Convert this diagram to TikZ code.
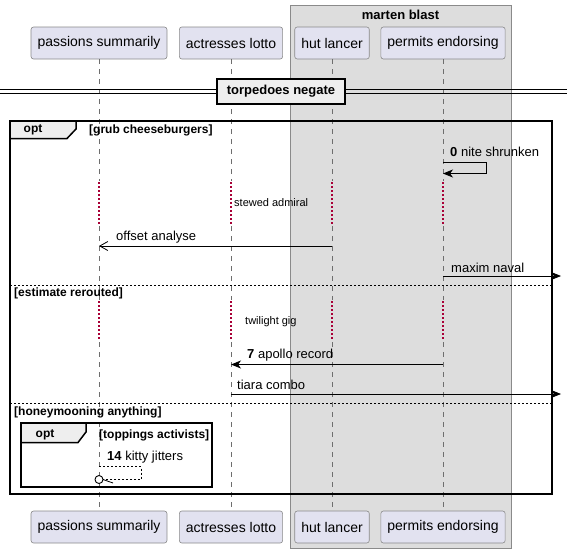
\documentclass[tikz,border=0pt]{standalone}
\usepackage{fontspec}
\setmainfont{Liberation Sans}
\usetikzlibrary{arrows.meta}
\definecolor{partfill}{HTML}{E2E2F0}
\definecolor{partline}{HTML}{8A8A8A}
\definecolor{boxfill}{HTML}{DDDDDD}
\definecolor{tabfill}{HTML}{EEEEEE}
\definecolor{delayred}{HTML}{A80036}
\definecolor{lifegray}{HTML}{6E6E6E}
\newcommand{\fsz}[1]{\fontsize{#1}{#1}\selectfont}

\begin{document}
\begin{tikzpicture}[x=1pt,y=-1pt,
  participant/.style={draw=partline, fill=partfill, rounded corners=2.5pt,
    line width=0.6pt, minimum height=32pt, inner xsep=6.5pt, inner ysep=0pt,
    font=\fsz{14}},
  lifeline/.style={draw=lifegray, line width=0.6pt, dash pattern=on 5pt off 5pt},
  delayline/.style={draw=delayred, line width=1.5pt, dash pattern=on 1.5pt off 2.5pt},
  framebox/.style={draw=black, line width=1.5pt},
  tabbox/.style={draw=black, fill=tabfill, line width=1.5pt},
  sepline/.style={draw=black, line width=0.7pt, dash pattern=on 2pt off 2pt},
  msg/.style={line width=0.8pt, -{Stealth[length=10pt,width=8pt,inset=3pt]}},
  asyncmsg/.style={line width=0.8pt, -{Straight Barb[length=8pt,width=9pt]}},
  retmsg/.style={line width=0.7pt, dash pattern=on 2pt off 2pt},
  msglabel/.style={anchor=west, inner sep=0pt, font=\fsz{13}},
  delaylabel/.style={anchor=west, inner sep=0pt, font=\fsz{11}},
  condlabel/.style={anchor=west, inner sep=0pt, font=\fsz{12}\bfseries},
  optlabel/.style={inner sep=0pt, font=\fsz{12}\bfseries}
]
\useasboundingbox (0,0) rectangle (567,552);
\fill[white] (0,0) rectangle (567,552);

% box around the two right-hand participants
\draw[draw=partline, fill=boxfill, line width=0.6pt] (290,5.5) rectangle (511,548);
\node[inner sep=0pt, font=\fsz{13}\bfseries] (boxtitle) at (400.5,15) {marten blast};

% participants, top and bottom
\node[participant] (pa) at (99,43) {passions summarily};
\node[participant] (pb) at (231,43) {actresses lotto};
\node[participant] (pc) at (332,43) {hut lancer};
\node[participant] (pd) at (443,43) {permits endorsing};
\node[participant] (qa) at (99,527) {passions summarily};
\node[participant] (qb) at (231,527) {actresses lotto};
\node[participant] (qc) at (332,527) {hut lancer};
\node[participant] (qd) at (443,527) {permits endorsing};

% lifelines, dotted while the two delays last
\foreach \p/\q in {pa/qa, pb/qb, pc/qc, pd/qd} {
  \draw[lifeline] (\p.south) -- (\p |- 0,181);
  \draw[delayline] (\p |- 0,182) -- (\p |- 0,225);
  \draw[lifeline] (\p |- 0,226) -- (\p |- 0,300);
  \draw[delayline] (\p |- 0,301) -- (\p |- 0,341);
  \draw[lifeline] (\p |- 0,342) -- (\q.north);
}

% divider
\draw[line width=1pt] (0,89.5) -- (567,89.5) (0,93.2) -- (567,93.2);
\node[draw=black, line width=2pt, fill=tabfill, minimum width=128pt,
  minimum height=25pt, inner sep=0pt, font=\fsz{13}\bfseries] (divider) at (281,91) {torpedoes negate};

% outer opt fragment
\draw[framebox] (10,121) rectangle (552,494);
\draw[tabbox] (10,121) -- (76,121) -- (76,129) -- (67,138.5) -- (10,138.5) -- cycle;
\node[optlabel] (opt1) at (33,130) {opt};
\node[condlabel] (cond1) at (89,130) {[grub cheeseburgers]};
\draw[sepline] (10,285) -- (552,285);
\node[condlabel] (cond2) at (14,293.5) {[estimate rerouted]};
\draw[sepline] (10,403.5) -- (552,403.5);
\node[condlabel] (cond3) at (14,412) {[honeymooning anything]};

% inner opt fragment
\draw[framebox] (21,423) rectangle (212,487);
\draw[tabbox] (21,423) -- (86,423) -- (86,432) -- (78,442.5) -- (21,442.5) -- cycle;
\node[optlabel] (opt2) at (45,435) {opt};
\node[condlabel] (cond4) at (99,435) {[toppings activists]};

% messages
\coordinate (rightedge1) at (561,276);
\coordinate (rightedge2) at (561,394);
\coordinate (selfa) at (486,162);
\coordinate (selfb) at (486,173.5);
\draw[msg] (pd |- 0,162) -- (selfa) -- (selfb) -- (pd |- 0,173.5);
\node[msglabel] (m0) at (450,152) {\textbf{0} nite shrunken};

\node[delaylabel] (d1) at (234,203) {stewed admiral};

\draw[asyncmsg] (pc |- 0,246) -- (pa |- 0,246);
\node[msglabel] (m1) at (116,237) {offset analyse};

\draw[msg] (pd |- 0,276) -- (rightedge1);
\node[msglabel] (m2) at (451,268) {maxim naval};

\node[delaylabel] (d2) at (245,322) {twilight gig};

\draw[msg] (pd |- 0,364.5) -- (pb |- 0,364.5);
\node[msglabel] (m3) at (247,355) {\textbf{7} apollo record};

\draw[msg] (pb |- 0,394) -- (rightedge2);
\node[msglabel] (m4) at (237,385) {tiara combo};

% self return with circle end
\coordinate (reta) at (141,466.5);
\coordinate (retb) at (141,479.5);
\coordinate (retc) at (103,479.5);
\draw[retmsg] (pa |- 0,466.5) -- (reta) -- (retb) -- (retc);
\draw[line width=0.9pt, fill=white] (pa |- 0,479.5) circle (4);
\draw[line width=0.8pt] (retc) -- (113,483);
\node[msglabel] (m5) at (107,457) {\textbf{14} kitty jitters};
\end{tikzpicture}
\end{document}
